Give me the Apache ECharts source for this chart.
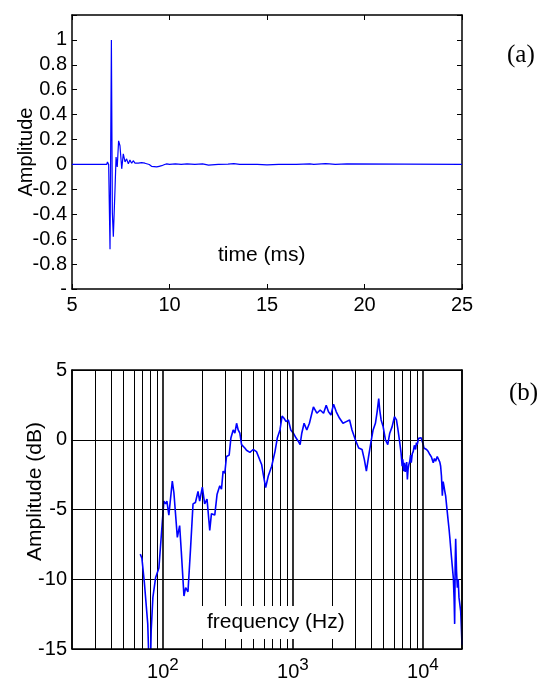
<!DOCTYPE html>
<html>
<head>
<meta charset="utf-8">
<script src="https://cdn.jsdelivr.net/npm/echarts@6/dist/echarts.min.js"></script>
<style>
html,body{margin:0;padding:0;background:#fff;}
#chart{width:547px;height:682px;}
</style>
</head>
<body>
<div id="chart"></div>
<script>
// ---- Panel (a): impulse response ----
var timeMs = [5, 6.78, 6.82, 6.88, 6.95, 7.02, 7.07, 7.12, 7.21, 7.26, 7.32, 7.39, 7.46, 7.55, 7.63, 7.72, 7.8, 7.89, 7.97, 8.06, 8.14, 8.23, 8.32, 8.4, 8.5, 8.57, 8.66, 8.74, 8.83, 8.96, 9.08, 9.17, 9.34, 9.47, 9.6, 9.75, 9.86, 10.0, 10.3, 10.6, 10.9, 11.3, 11.7, 12.0, 12.5, 13.0, 13.3, 13.6, 14.5, 15.0, 15.6, 16.5, 17.2, 17.4, 18.0, 18.2, 18.5, 19.1, 19.2, 25];
var amplitude = [0, 0, 0.02, 0.0, -0.68, 1.0, -0.39, -0.58, -0.18, 0.06, -0.02, 0.19, 0.15, -0.035, 0.085, 0.02, 0.045, 0.005, 0.035, 0.01, 0.03, 0.01, 0.025, 0.01, 0.02, 0.015, 0.02, 0.01, 0.02, 0, -0.015, -0.02, -0.02, -0.015, -0.01, 0, 0.005, 0.0, 0.005, 0, 0.005, 0, 0.004, -0.005, 0, 0.003, 0.006, 0, 0, -0.004, 0, 0, 0.005, 0, 0.006, 0.004, 0, 0.004, 0, 0];
var timeTicks = [5, 10, 15, 20, 25];

// ---- Panel (b): frequency response ----
var freqHz = [67, 69, 72, 76.5, 78.5, 80, 81.3, 83.8, 87.9, 93.2, 97.2, 101.8, 105, 107.4, 111.2, 118.2, 121.6, 129.2, 134.6, 138.6, 145.3, 149.7, 156, 162.8, 170.6, 178, 186.4, 191.9, 201.2, 209.7, 218.6, 229.4, 236.4, 250.7, 261.3, 274, 282.4, 290.6, 299.5, 308.7, 323.5, 333.6, 347.6, 358, 369, 379.6, 391, 403, 427, 440, 453, 467, 481.6, 495, 510.6, 525, 541.8, 575, 592, 617.6, 647, 687, 729, 759, 796, 826, 855, 887, 923, 964, 1009, 1059, 1103, 1137, 1171, 1220, 1280, 1341, 1400, 1439, 1458, 1530, 1622, 1722, 1805, 1880, 1963, 2056, 2157, 2287, 2429, 2576, 2731, 2850, 3024, 3208, 3405, 3548, 3677, 3828, 3996, 4142, 4315, 4448, 4575, 4659, 4774, 4947, 5152, 5369, 5562, 5802, 6045, 6265, 6410, 6645, 6794, 6930, 7010, 7124, 7221, 7320, 7420, 7510, 7600, 7700, 7805, 7930, 8040, 8142, 8290, 8437, 8600, 8789, 8920, 9056, 9270, 9484, 9700, 9894, 10040, 10180, 10430, 10675, 11000, 11320, 11650, 12020, 12270, 12530, 12900, 13285, 13500, 13700, 13900, 14120, 14320, 14520, 14750, 14970, 15300, 15600, 15900, 16150, 16350, 16550, 16850, 17160, 17400, 17560, 17720, 17880, 18150, 18420, 18700, 18960, 19250, 19540, 19800, 20000];
var levelDb = [-8.2, -8.5, -10.2, -13.2, -16.5, -17, -13.7, -11.3, -9.9, -9.2, -6.9, -4.4, -4.6, -4.4, -5.4, -2.96, -3.8, -7.0, -6.15, -8.0, -11.2, -10.6, -10.9, -8.0, -4.6, -4.5, -3.7, -4.4, -3.4, -4.6, -4.25, -6.5, -5.3, -5.4, -3.9, -3.3, -3.55, -2.25, -2.4, -1.2, -1.1, 0.12, 0.7, 0.47, 1.18, 0.7, 0.47, -0.35, -0.59, -0.75, -0.7, -0.9, -0.83, -0.7, -0.7, -0.85, -0.94, -1.77, -2.48, -3.43, -2.6, -1.9, -0.83, 0.12, 0.7, 1.7, 1.54, 1.3, 1.42, 0.7, 0.47, 0.12, -0.12, -0.35, 0.47, 1.18, 0.7, 1.18, 1.9, 2.36, 2.25, 1.9, 2.13, 1.9, 2.48, 2.0, 1.77, 2.55, 2.0, 1.54, 1.18, 1.3, 1.42, 0.7, 0, -0.59, -0.7, -1.42, -2.25, -1.18, -0.12, 0.7, 1.18, 2.0, 2.95, 2.13, 1.42, 0.94, 0, -0.35, 0.47, 0.94, 1.65, 1.42, 0.83, -0.23, -0.94, -1.9, -1.4, -2.25, -1.65, -2.3, -2.0, -1.6, -2.84, -2.1, -1.77, -1.54, -1.1, -1.65, -1.0, -0.83, -0.4, -0.7, -0.2, -0.35, 0.1, 0, 0.15, -0.12, -0.3, -0.59, -0.45, -0.7, -0.85, -1.06, -1.25, -1.65, -1.35, -1.54, -1.2, -1.3, -1.6, -1.9, -2.6, -4.02, -3.0, -3.3, -3.7, -4.02, -4.9, -5.67, -6.4, -7.1, -7.7, -8.28, -9.1, -9.93, -11.5, -13.2, -9.0, -7.1, -9.4, -10.6, -10.0, -11.3, -11.8, -12.3, -13.6, -14.7];
var gridFreqs = [30, 40, 50, 60, 70, 80, 90, 200, 300, 400, 500, 600, 700, 800, 900, 2000, 3000, 4000, 5000, 6000, 7000, 8000, 9000];
var decadeExp = {100: '2', 1000: '3', 10000: '4'};

var FONT = 'Liberation Sans, Arial, sans-serif';
var SERIF = 'Liberation Serif, Times New Roman, serif';
var chart = echarts.init(document.getElementById('chart'), null, {renderer: 'canvas'});

function pairs(xs, ys) { return xs.map(function (x, i) { return [x, ys[i]]; }); }

function boxLine() { return {onZero: false, lineStyle: {color: '#000', width: 1.5}}; }

var option = {
  animation: false,
  backgroundColor: '#fff',
  grid: [
    {left: 72, top: 15, width: 390, height: 274, containLabel: false},
    {left: 72, top: 370, width: 390, height: 282, containLabel: false}
  ],
  xAxis: [
    {gridIndex: 0, type: 'value', min: 5, max: 25, interval: 5, position: 'bottom',
     axisLine: boxLine(), axisTick: {inside: true, length: 5, lineStyle: {color: '#000'}},
     axisLabel: {color: '#000', fontFamily: FONT, fontSize: 20, margin: 6},
     splitLine: {show: false}},
    {gridIndex: 0, type: 'value', min: 5, max: 25, interval: 5, position: 'top',
     axisLine: boxLine(), axisTick: {inside: true, length: 5, lineStyle: {color: '#000'}},
     axisLabel: {show: false}, splitLine: {show: false}},
    {gridIndex: 1, type: 'log', logBase: 10, min: 20, max: 20000, position: 'bottom', z: 5,
     axisLine: boxLine(), axisTick: {show: false},
     axisLabel: {color: '#000', fontFamily: FONT, margin: 8,
       showMinLabel: false, showMaxLabel: false,
       formatter: function (v) {
         var e = decadeExp[Math.round(v)];
         return e ? '{b|10}{s|' + e + '}' : '';
       },
       rich: {
         b: {fontFamily: FONT, fontSize: 20, color: '#000', lineHeight: 30},
         s: {fontFamily: FONT, fontSize: 17, color: '#000', lineHeight: 10, verticalAlign: 'top'}
       }},
     splitLine: {show: true, lineStyle: {color: '#000', width: 1.6}}},
    {gridIndex: 1, type: 'log', logBase: 10, min: 20, max: 20000, position: 'top',
     axisLine: boxLine(), axisTick: {show: false}, axisLabel: {show: false}, splitLine: {show: false}}
  ],
  yAxis: [
    {gridIndex: 0, type: 'value', min: -1, max: 1.2, interval: 0.2, position: 'left',
     name: 'Amplitude', nameLocation: 'middle', nameGap: 36, nameMoveOverlap: false,
     nameTextStyle: {color: '#000', fontFamily: FONT, fontSize: 20},
     axisLine: boxLine(), axisTick: {inside: true, length: 5, lineStyle: {color: '#000'}},
     axisLabel: {color: '#000', fontFamily: FONT, fontSize: 20, margin: 5,
       formatter: function (v) {
         if (v > 1.05) return '';
         if (v < -0.95) return '-';
         return String(Math.round(v * 10) / 10);
       }},
     splitLine: {show: false}},
    {gridIndex: 0, type: 'value', min: -1, max: 1.2, interval: 0.2, position: 'right',
     axisLine: boxLine(), axisTick: {inside: true, length: 5, lineStyle: {color: '#000'}},
     axisLabel: {show: false}, splitLine: {show: false}},
    {gridIndex: 1, type: 'value', min: -15, max: 5, interval: 5, position: 'left',
     name: 'Amplitude (dB)', nameLocation: 'middle', nameGap: 26, nameMoveOverlap: false,
     nameTextStyle: {color: '#000', fontFamily: FONT, fontSize: 21, padding: [0, 0, 0, 36]},
     axisLine: boxLine(), axisTick: {show: false},
     axisLabel: {color: '#000', fontFamily: FONT, fontSize: 20, margin: 5},
     splitLine: {show: true, lineStyle: {color: '#000', width: 1}}},
    {gridIndex: 1, type: 'value', min: -15, max: 5, interval: 5, position: 'right',
     axisLine: boxLine(), axisTick: {show: false}, axisLabel: {show: false}, splitLine: {show: false}}
  ],
  series: [
    {type: 'line', xAxisIndex: 0, yAxisIndex: 0, data: pairs(timeMs, amplitude),
     showSymbol: false, symbol: 'none', lineStyle: {color: '#0000ff', width: 1.2}, clip: true},
    {type: 'line', xAxisIndex: 2, yAxisIndex: 2, data: pairs(freqHz, levelDb),
     showSymbol: false, symbol: 'none', lineStyle: {color: '#0000ff', width: 1.6}, clip: true, z: 3,
     markLine: {silent: true, symbol: 'none', label: {show: false}, z: 1,
       lineStyle: {color: '#000', width: 1, type: 'solid'},
       data: gridFreqs.map(function (f) { return {xAxis: f}; })}}
  ],
  graphic: [
    {type: 'text', left: 507, top: 43, z: 100,
     style: {text: '(a)', fontFamily: SERIF, fontSize: 25, fill: '#000'}},
    {type: 'text', left: 509, top: 381, z: 100,
     style: {text: '(b)', fontFamily: SERIF, fontSize: 25, fill: '#000'}},
    {type: 'text', left: 218, top: 245, z: 100,
     style: {text: 'time (ms)', fontFamily: FONT, fontSize: 21, fill: '#000'}},
    {type: 'text', left: 200, top: 606, z: 100,
     style: {text: 'frequency (Hz)', fontFamily: FONT, fontSize: 21, fill: '#000',
       backgroundColor: '#fff', padding: [6, 7, 6, 7]}}
  ]
};
chart.setOption(option);
</script>
</body>
</html>
